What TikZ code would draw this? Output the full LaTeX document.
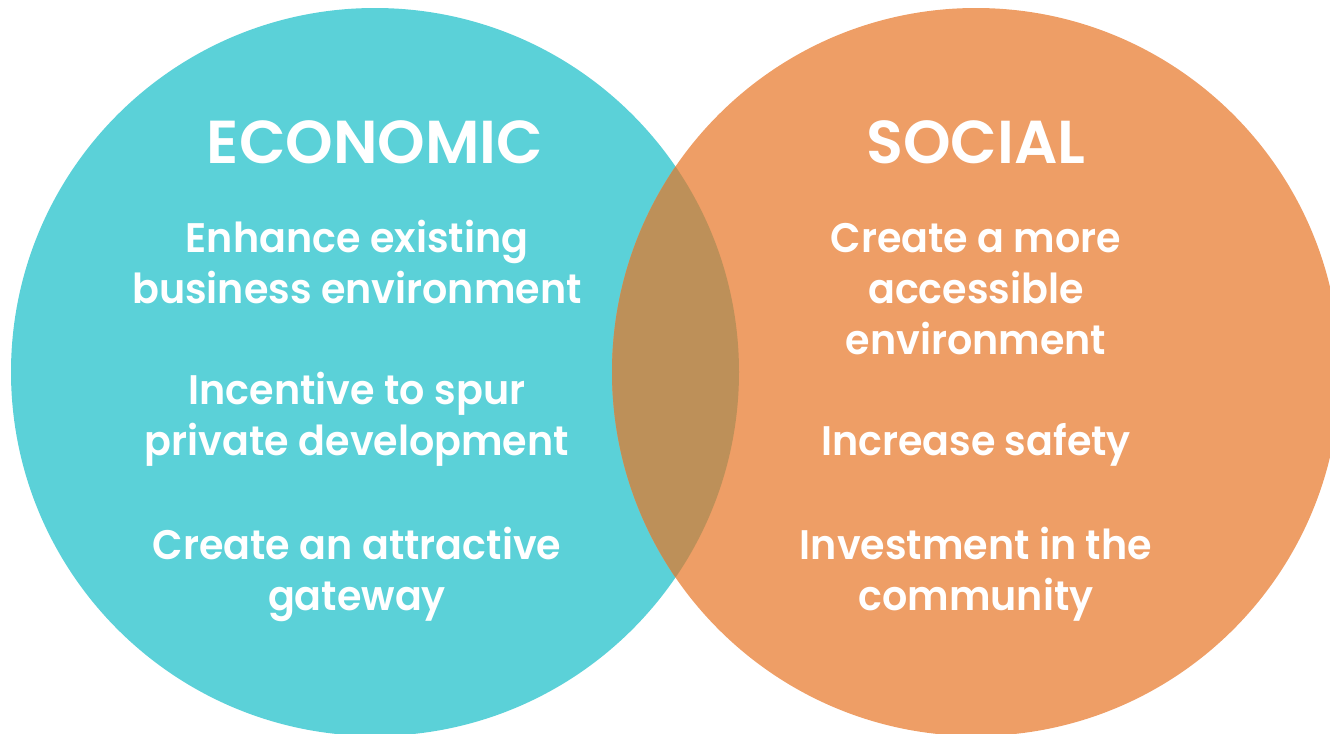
\documentclass[tikz,border=0pt]{standalone}
\usepackage{fontspec}
\setmainfont{Poppins}[BoldFont={Poppins SemiBold}]
\newfontfamily\itemfont{Poppins SemiBold}[FakeStretch=0.96]
\usepackage{tikz}

\definecolor{econcol}{HTML}{5BD1D8}
\definecolor{socialcol}{HTML}{EE9E66}
\definecolor{bothcol}{HTML}{BD9059}

\begin{document}
\begin{tikzpicture}[x=0.02cm,y=-0.02cm]
	 \tikzstyle{every node}+=[inner sep=0pt, text=white]
	 \tikzstyle{title}=[anchor=base, font=\bfseries\fontsize{34.5}{40}\selectfont]
	 \tikzstyle{item}=[anchor=base, align=center, font=\itemfont\fontsize{23.5}{28.9}\selectfont]
	 \useasboundingbox (0,0) rectangle (1330,734);
	 \clip (0,0) rectangle (1330,734);
	 \fill [econcol] (375,372) circle (364);
	 \fill [socialcol] (976,372) circle (364);
	 \begin{scope}
		 \clip (375,372) circle (364);
		 \fill [bothcol] (976,372) circle (364);
	 \end{scope}
	 \node [title] (econ) at (375,163) {ECONOMIC};
	 \node [title] (social) at (976,163) {SOCIAL};
	 \node [item] (e1) at (357,303) {Enhance existing\\business environment};
	 \node [item] (e2) at (357,455) {Incentive to spur\\private development};
	 \node [item] (e3) at (357,610) {Create an attractive\\gateway};
	 \node [item] (s1) at (976,354) {Create a more\\accessible\\environment};
	 \node [item] (s2) at (976,455) {Increase safety};
	 \node [item] (s3) at (976,610) {Investment in the\\community};
\end{tikzpicture}
\end{document}
